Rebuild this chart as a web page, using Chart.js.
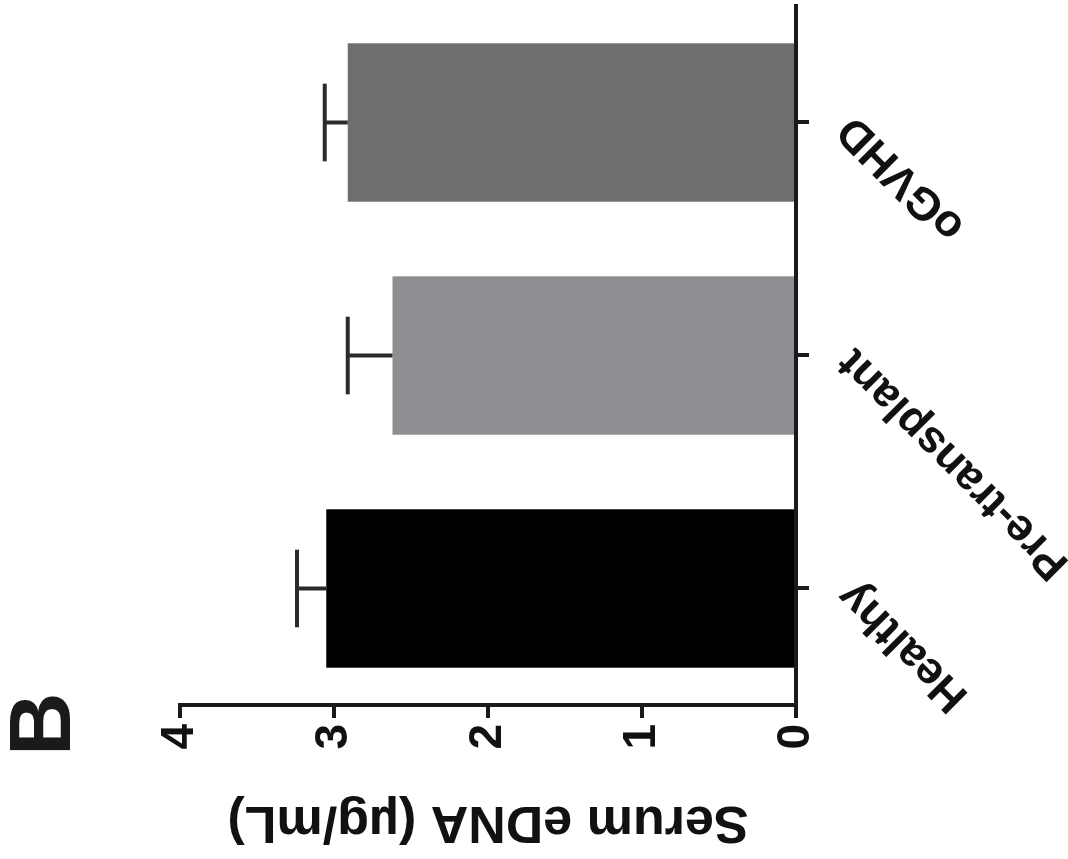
<!DOCTYPE html>
<html>
<head>
<meta charset="utf-8">
<title>Serum eDNA</title>
<script src="https://cdn.jsdelivr.net/npm/chart.js@4.4.1/dist/chart.umd.min.js"></script>
<style>
  html, body { margin: 0; padding: 0; background: #fff; overflow: hidden; }
  body { width: 1068px; height: 859px; position: relative; }
  /* La figura original es vertical; se gira 90° a la izquierda como en la imagen */
  #lienzo {
    position: absolute; left: 0; top: 0;
    width: 859px; height: 1068px;
    transform-origin: 0 0;
    transform: translateY(859px) rotate(-90deg);
  }
  #lienzo canvas { position: absolute; left: 0; top: 0; }
  #panel {
    position: absolute; left: 103px; top: -4px;
    font: bold 88px 'Liberation Sans', Arial, sans-serif;
    line-height: 1; color: #1a1a1a;
  }
</style>
</head>
<body>
<div id="lienzo">
  <canvas id="grafica" width="859" height="1068"></canvas>
  <div id="panel">B</div>
</div>
<script>
// ============================================================
//  Serum eDNA por grupo (media + error), barras verticales
// ============================================================

const categorias = ['Healthy', 'Pre-transplant', 'oGVHD'];
const medias     = [3.05, 2.62, 2.91];
const errores    = [0.19, 0.29, 0.15];
const colores    = ['#000000', '#8e8d92', '#6e6e6e'];
const ticksY     = [0, 1, 2, 3, 4];
const tituloY    = 'Serum eDNA (µg/mL)';

const fuente   = "'Liberation Sans', Arial, sans-serif";
const colorEje = '#1a1a1a';

// Barras de error solo hacia arriba, con tope horizontal
const barrasError = {
  id: 'barrasError',
  afterDatasetsDraw(chart) {
    const { ctx } = chart;
    const y = chart.scales.y;
    const meta = chart.getDatasetMeta(0);
    ctx.save();
    ctx.strokeStyle = '#2b2b2b';
    ctx.lineWidth = 4;
    meta.data.forEach((bar, i) => {
      const yMedia = y.getPixelForValue(medias[i]);
      const yTope  = y.getPixelForValue(medias[i] + errores[i]);
      const semi   = bar.width * 0.245;
      ctx.beginPath();
      ctx.moveTo(bar.x, yMedia);
      ctx.lineTo(bar.x, yTope);
      ctx.moveTo(bar.x - semi, yTope);
      ctx.lineTo(bar.x + semi, yTope);
      ctx.stroke();
    });
    ctx.restore();
  }
};

new Chart(document.getElementById('grafica'), {
  type: 'bar',
  data: {
    labels: categorias,
    datasets: [{
      data: medias,
      backgroundColor: colores,
      borderWidth: 0,
      categoryPercentage: 1,
      barPercentage: 0.68
    }]
  },
  options: {
    responsive: false,
    animation: false,
    devicePixelRatio: 1,
    layout: { padding: { top: 180, right: 6, left: 6, bottom: 0 } },
    plugins: { legend: { display: false }, tooltip: { enabled: false } },
    scales: {
      x: {
        grid: { drawOnChartArea: false, offset: false, tickLength: 13, color: colorEje, lineWidth: 4 },
        border: { display: true, color: colorEje, width: 4 },
        ticks: {
          autoSkip: false, minRotation: 45, maxRotation: 45, padding: 18, color: '#111',
          font: { family: fuente, size: 45, weight: 'bold' }
        },
        afterFit: s => { s.height = 272; }
      },
      y: {
        min: 0, max: 4,
        afterBuildTicks: s => { s.ticks = ticksY.map(v => ({ value: v })); },
        grid: { drawOnChartArea: false, tickLength: 13, color: colorEje, lineWidth: 4 },
        border: { display: true, color: colorEje, width: 4 },
        ticks: { padding: 6, color: '#111', font: { family: fuente, size: 46, weight: 'bold' } },
        title: {
          display: true, text: tituloY, color: '#111', padding: 0,
          font: { family: fuente, size: 52, weight: 'bold' }
        },
        afterFit: s => { s.width = 148; }
      }
    }
  },
  plugins: [barrasError]
});
</script>
</body>
</html>
